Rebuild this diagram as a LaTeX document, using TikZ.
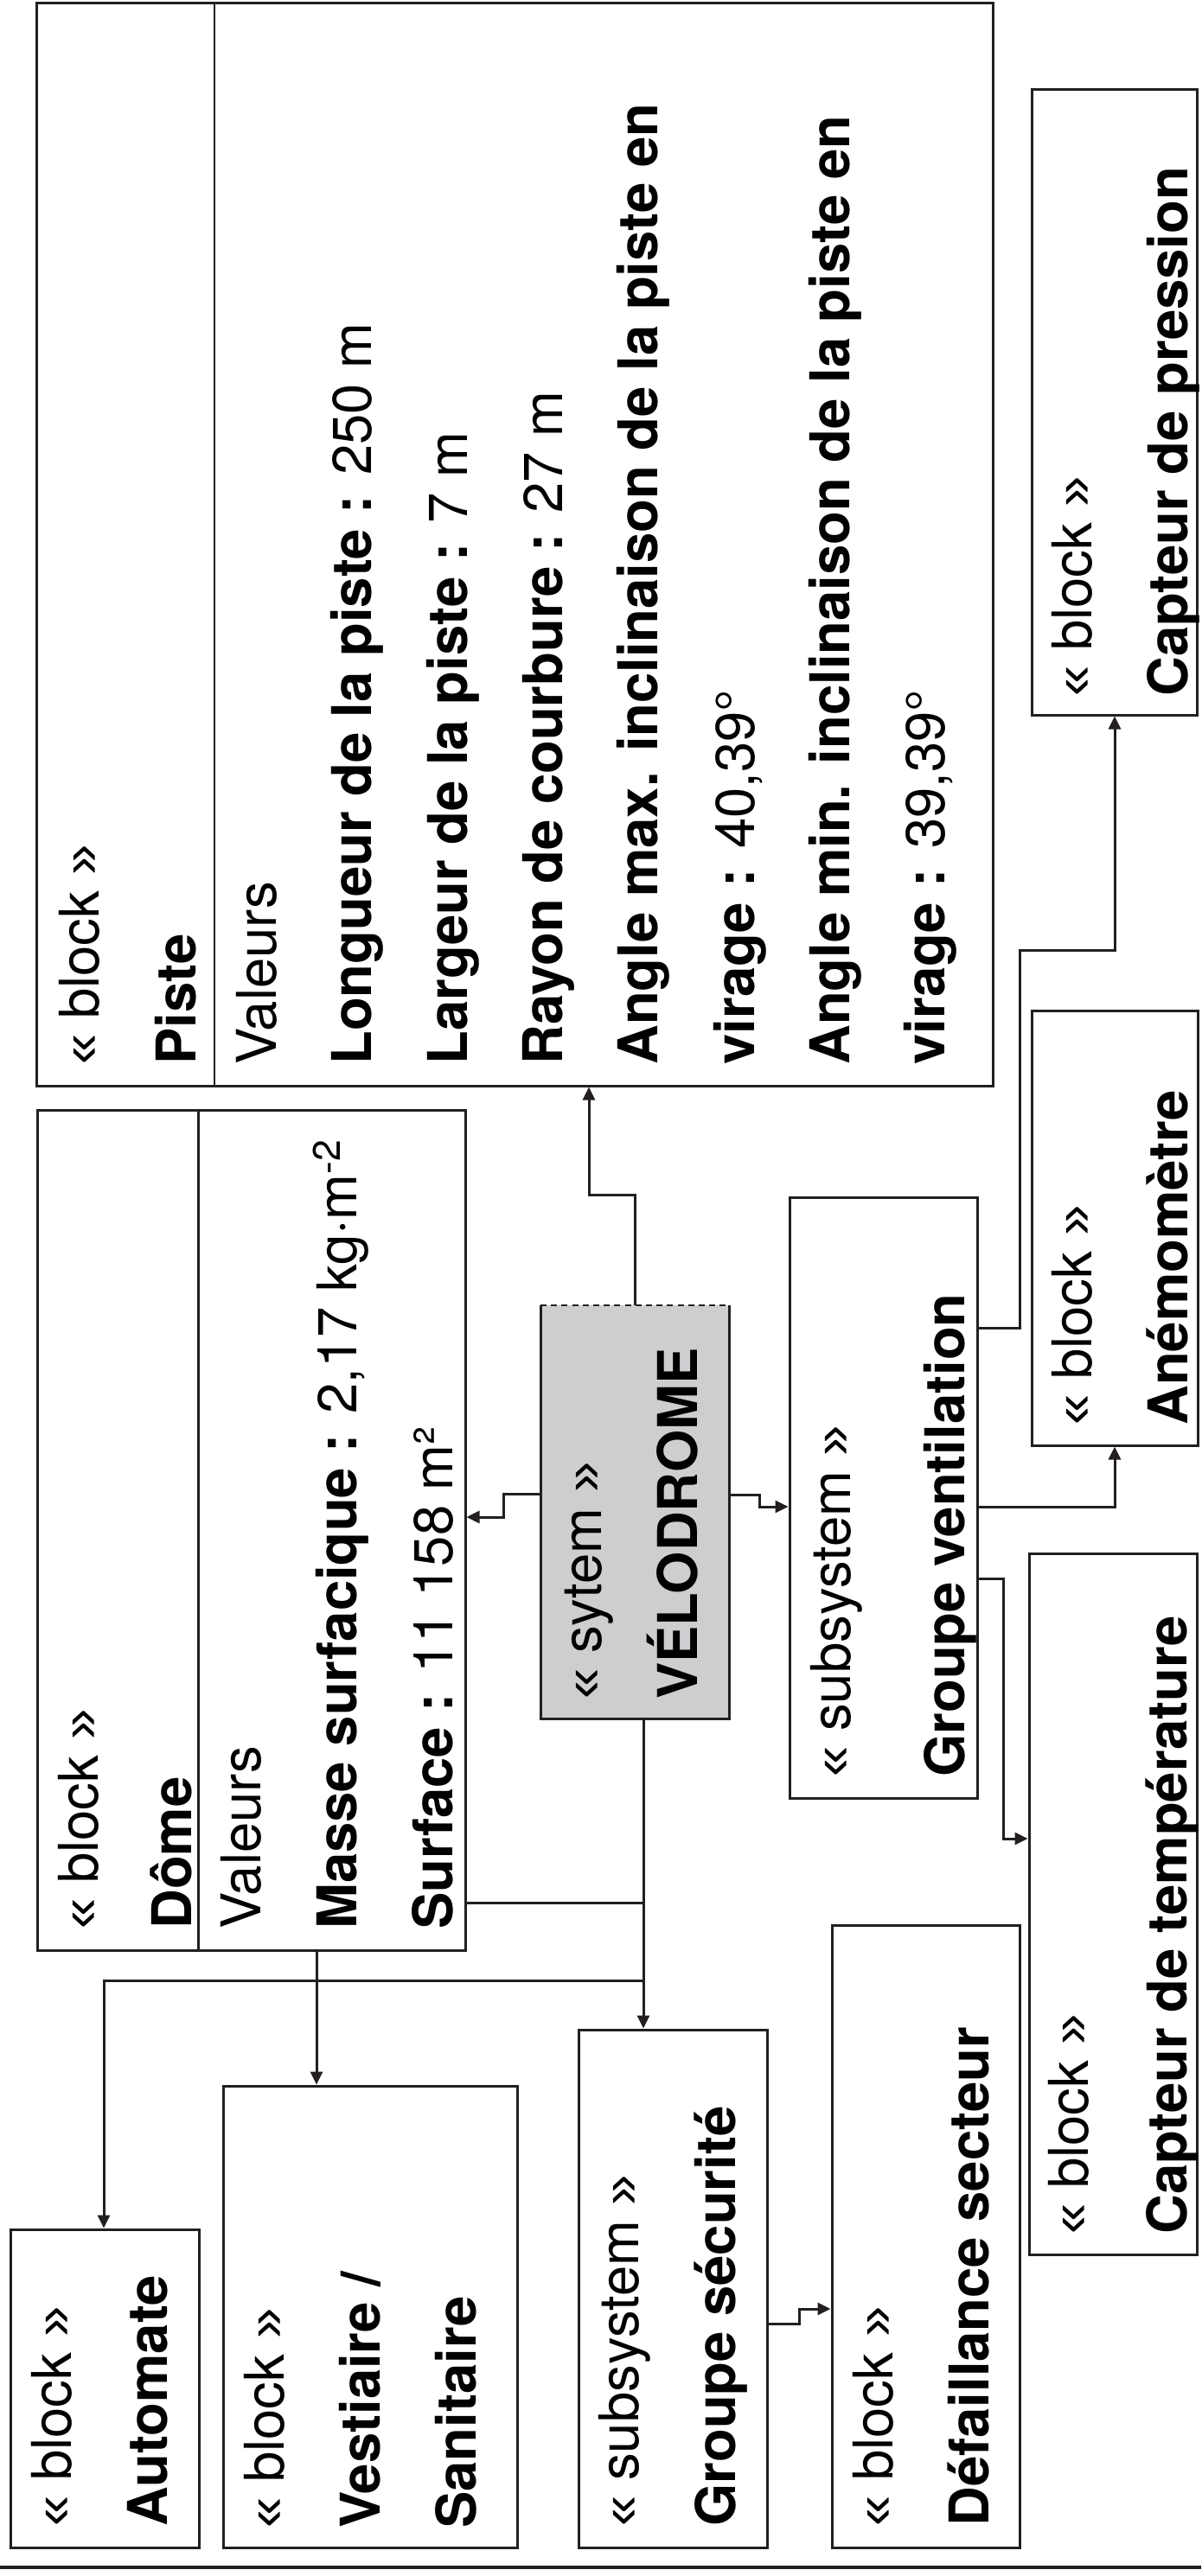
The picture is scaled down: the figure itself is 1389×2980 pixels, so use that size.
\documentclass[tikz,border=0pt]{standalone}
\usepackage{fontspec}
\setmainfont{TeX Gyre Heros}
\newfontfamily\gfont{Liberation Sans}
\usetikzlibrary{arrows.meta,fit}
\definecolor{lc}{RGB}{35,31,32}
\definecolor{vg}{RGB}{205,206,208}
\newcommand\myfs{\fontsize{31.7}{38}\selectfont}
\newcommand\stereo[1]{{\gfont «} #1 {\gfont »}}
\tikzset{
  box/.style={draw=lc,line width=1.5pt,inner sep=0pt},
  txt/.style={rotate=90,anchor=base west,inner sep=0pt,font=\myfs,text=black},
  conn/.style={draw=lc,line width=1.5pt},
  arr/.style={conn,-{Triangle[length=7.5pt,width=7pt]}},
}
\begin{document}
\begin{tikzpicture}[x=0.5pt,y=-0.5pt]
\useasboundingbox (0,0) rectangle (1389,2980);
% boxes
\node[box,fit={(42,4) (1148,1256)}] (piste) {};
\node[box,fit={(43,1284) (538,2256)}] (dome) {};
\node[fill=vg,inner sep=0pt,outer sep=0pt,fit={(625,1510) (843,1988)}] (velo) {};
\node[box,fit={(913,1385) (1130,2080)}] (vent) {};
\node[box,fit={(1193,104) (1384,827)}] (cpr) {};
\node[box,fit={(1193,1169) (1385,1672)}] (ane) {};
\node[box,fit={(1190,1797) (1384,2608)}] (ctp) {};
\node[box,fit={(12,2579) (230,2947)}] (auto) {};
\node[box,fit={(258,2413) (598,2947)}] (vest) {};
\node[box,fit={(669,2348) (887,2947)}] (gs) {};
\node[box,fit={(962,2227) (1179,2947)}] (def) {};
% velodrome borders
\draw[lc,line width=1.5pt] (velo.north west) -- (velo.south west) -- (velo.south east) -- (velo.north east);
\draw[lc,line width=1.1pt,dash pattern=on 3.5pt off 2.6pt] (velo.north west) -- (velo.north east);
% dividers
\coordinate (pD) at (248,0);
\coordinate (dD) at (229,0);
\draw[lc,line width=0.6pt] (pD |- piste.north) -- (pD |- piste.south);
\draw[lc,line width=1.5pt] (dD |- dome.north) -- (dD |- dome.south);
% bottom rule
\coordinate (bl) at (0,2970);
\coordinate (br) at (1389,2970);
\draw[lc,line width=2pt] (bl) -- (br);
% texts: Piste
\node[txt] (p1) at (114,1232) {\stereo{block}};
\node[txt] (p2) at (226,1232) {\bfseries Piste};
\node[txt] (p3) at (319,1232) {Valeurs};
\node[txt] (p4) at (429,1232) {\textbf{Longueur de la piste :} 250 m};
\node[txt] (p5) at (540,1232) {\textbf{Largeur de la piste :} 7 m};
\node[txt] (p6) at (650,1232) {\textbf{Rayon de courbure :} 27 m};
\node[txt] (p7) at (760,1232) {\bfseries Angle max. inclinaison de la piste en};
\node[txt] (p8) at (872,1232) {\textbf{virage :} 40,39°};
\node[txt] (p9) at (982,1232) {\bfseries Angle min. inclinaison de la piste en};
\node[txt] (p10) at (1092,1232) {\textbf{virage :} 39,39°};
% Dome
\node[txt] (d1) at (113,2232) {\stereo{block}};
\node[txt] (d2) at (221,2232) {\bfseries Dôme};
\node[txt] (d3) at (301,2232) {Valeurs};
\node[txt] (d4) at (412,2232) {\textbf{Masse surfacique :} 2,17 kg·m\textsuperscript{-2}};
\node[txt] (d5) at (523,2232) {\textbf{Surface :} 11 158 m²};
% Velodrome
\node[txt] (v1) at (695,1966) {\stereo{sytem}};
\node[txt] (v2) at (806,1966) {\bfseries VÉLODROME};
% Ventilation
\node[txt] (g1) at (983,2056) {\stereo{subsystem}};
\node[txt] (g2) at (1115,2056) {\bfseries Groupe ventilation};
% Capteurs
\node[txt] (c1) at (1262,806) {\stereo{block}};
\node[txt] (c2) at (1373,806) {\bfseries Capteur de pression};
\node[txt] (a1) at (1262,1649) {\stereo{block}};
\node[txt] (a2) at (1373,1649) {\bfseries Anémomètre};
\node[txt] (t1) at (1258,2585) {\stereo{block}};
\node[txt] (t2) at (1372,2585) {\bfseries Capteur de température};
% bottom row
\node[txt] (u1) at (82,2923) {\stereo{block}};
\node[txt] (u2) at (193,2923) {\bfseries Automate};
\node[txt] (w1) at (328,2925) {\stereo{block}};
\node[txt] (w2) at (439,2925) {\bfseries Vestiaire /};
\node[txt] (w3) at (550,2925) {\bfseries Sanitaire};
\node[txt] (s1) at (738,2923) {\stereo{subsystem}};
\node[txt] (s2) at (850,2923) {\bfseries Groupe sécurité};
\node[txt] (f1) at (1032,2923) {\stereo{block}};
\node[txt] (f2) at (1143,2923) {\bfseries Défaillance secteur};
% connectors
\coordinate (pA) at (681,1382);
\draw[arr] (velo.north) |- (pA) -- (pA |- piste.south);
\coordinate (dA) at (582,1728);
\coordinate (dB) at (582,1755);
\draw[arr] (velo.west |- dA) -- (dA) -- (dB) -- (dB -| dome.east);
\coordinate (vA) at (878,1729);
\coordinate (vB) at (878,1743);
\draw[arr] (velo.east |- vA) -- (vA) -- (vB) -- (vB -| vent.west);
\coordinate (gA) at (744,2291);
\coordinate (gB) at (744,2201);
\draw[arr] (velo.south -| gA) -- (gA |- gs.north);
\draw[conn] (gB -| dome.east) -- (gB);
\coordinate (aA) at (120,2291);
\draw[arr] (gA) -- (aA) -- (aA |- auto.north);
\coordinate (wA) at (366,2300);
\draw[arr] (wA |- dome.south) -- (wA |- vest.north);
\coordinate (fA) at (924,2688);
\coordinate (fB) at (924,2671);
\draw[arr] (gs.east |- fA) -- (fA) -- (fB) -- (fB -| def.west);
\coordinate (cA) at (1179,1536);
\coordinate (cB) at (1179,1099);
\coordinate (cC) at (1289,1099);
\draw[arr] (vent.east |- cA) -- (cA) -- (cB) -- (cC) -- (cC |- cpr.south);
\coordinate (nA) at (1289,1743);
\draw[arr] (vent.east |- nA) -- (nA) -- (nA |- ane.south);
\coordinate (tA) at (1160,1826);
\coordinate (tB) at (1160,2127);
\draw[arr] (vent.east |- tA) -- (tA) -- (tB) -- (tB -| ctp.west);
\end{tikzpicture}
\end{document}
